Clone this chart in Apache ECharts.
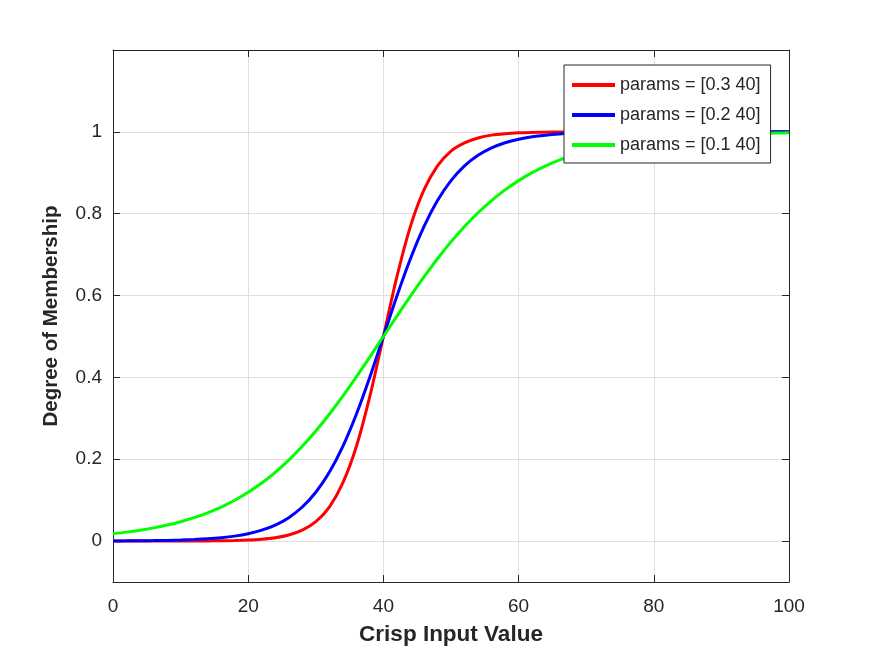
<!DOCTYPE html>
<html>
<head>
<meta charset="utf-8">
<script src="https://cdn.jsdelivr.net/npm/echarts@6/dist/echarts.min.js"></script>
<style>
html,body{margin:0;padding:0;background:#fff;}
#chart{width:872px;height:654px;}
</style>
</head>
<body>
<div id="chart"></div>
<script>
// Crisp input values (x)
const xValues = [0,2,4,6,8,10,12,14,16,18,20,22,24,26,28,30,32,34,36,38,40,42,44,46,48,50,52,54,56,58,60,62,64,66,68,70,72,74,76,78,80,82,84,86,88,90,92,94,96,98,100];
// params = [0.3 40]
const red = [0.000006,0.000011,0.00002,0.000037,0.000068,0.000123,0.000225,0.00041,0.00075,0.00136,0.00247,0.0045,0.00816,0.0148,0.0266,0.0474,0.0832,0.142,0.231,0.354,0.5,0.646,0.769,0.858,0.917,0.953,0.973,0.985,0.992,0.9955,0.9975,0.9986,0.9993,0.9996,0.9998,0.9999,0.99994,0.99997,0.99998,0.99999,1,1,1,1,1,1,1,1,1,1,1];
// params = [0.2 40]
const blue = [0.000335,0.0005,0.00075,0.00111,0.00166,0.00247,0.00368,0.00548,0.00816,0.0121,0.018,0.0266,0.0392,0.0573,0.0832,0.1192,0.168,0.2315,0.31,0.401,0.5,0.599,0.69,0.7685,0.832,0.8808,0.9168,0.9427,0.9608,0.9734,0.982,0.9879,0.9918,0.9945,0.9963,0.9975,0.9983,0.9989,0.9993,0.9995,0.9997,0.9998,0.9998,0.9999,0.9999,0.99995,0.99997,0.99998,0.99998,0.99999,0.99999];
// params = [0.1 40]
const green = [0.018,0.0219,0.0266,0.0323,0.0392,0.0474,0.0573,0.0691,0.0832,0.0998,0.1192,0.1419,0.168,0.1978,0.2315,0.2689,0.31,0.3543,0.4013,0.4502,0.5,0.5498,0.5987,0.6457,0.69,0.7311,0.7685,0.8022,0.832,0.8581,0.8808,0.9002,0.9168,0.9309,0.9427,0.9526,0.9608,0.9677,0.9734,0.9781,0.982,0.9852,0.9879,0.9901,0.9918,0.9933,0.9945,0.9955,0.9963,0.997,0.9975];
const seriesNames = ['params = [0.3 40]','params = [0.2 40]','params = [0.1 40]'];
const yTicks = [0,0.2,0.4,0.6,0.8,1];
const xTicks = [0,20,40,60,80,100];

const FONT = '"Liberation Sans", Arial, Helvetica, sans-serif';
const TXT = '#262626';
const GRIDC = '#dfdfdf';

function pairs(ys){ return xValues.map((x,i)=>[x, ys[i]]); }

const chart = echarts.init(document.getElementById('chart'), null, {renderer:'canvas'});
const axisLine = {show:true, onZero:false, lineStyle:{color:TXT, width:1}};
const option = {
  backgroundColor:'#ffffff',
  animation:false,
  grid:{left:113, right:83, top:50, bottom:72, containLabel:false},
  legend:{
    orient:'vertical', left:564, top:65,
    backgroundColor:'#ffffff', borderColor:'#262626', borderWidth:1,
    padding:[11,10,9,8], itemGap:12, itemWidth:43, itemHeight:4, itemTextGap:7,
    icon:'rect',
    textStyle:{fontFamily:FONT, fontSize:18, color:TXT},
    data:seriesNames
  },
  xAxis:[{
    type:'value', min:0, max:100, interval:20, position:'bottom',
    name:'Crisp Input Value', nameLocation:'middle', nameGap:41,
    nameTextStyle:{fontFamily:FONT, fontSize:22.5, fontWeight:'bold', color:TXT},
    axisLine:axisLine,
    axisTick:{show:true, inside:true, length:7, lineStyle:{color:TXT}, customValues:xTicks},
    axisLabel:{fontFamily:FONT, fontSize:19, color:TXT, margin:15, customValues:xTicks},
    splitLine:{show:true, lineStyle:{color:GRIDC, width:1}}
  },{
    type:'value', min:0, max:100, interval:20, position:'top',
    axisLine:axisLine,
    axisTick:{show:true, inside:true, length:7, lineStyle:{color:TXT}, customValues:xTicks},
    axisLabel:{show:false},
    splitLine:{show:false}
  }],
  yAxis:[{
    type:'value', min:-0.1, max:1.2, position:'left',
    name:'Degree of Membership', nameLocation:'middle', nameGap:51,
    nameTextStyle:{fontFamily:FONT, fontSize:20.5, fontWeight:'bold', color:TXT},
    axisLine:axisLine,
    axisTick:{show:true, inside:true, length:7, lineStyle:{color:TXT}, customValues:yTicks},
    axisLabel:{fontFamily:FONT, fontSize:19, color:TXT, margin:11, customValues:yTicks,
      formatter:v=>String(Math.round(v*10)/10)},
    splitLine:{show:true, lineStyle:{color:GRIDC, width:1}}
  },{
    type:'value', min:-0.1, max:1.2, position:'right',
    axisLine:axisLine,
    axisTick:{show:true, inside:true, length:7, lineStyle:{color:TXT}, customValues:yTicks},
    axisLabel:{show:false},
    splitLine:{show:false}
  }],
  series:[
    {name:seriesNames[0], type:'line', data:pairs(red), smooth:0.3, showSymbol:false, color:'#ff0000', lineStyle:{width:3, color:'#ff0000'}},
    {name:seriesNames[1], type:'line', data:pairs(blue), smooth:0.3, showSymbol:false, color:'#0000ff', lineStyle:{width:3, color:'#0000ff'}},
    {name:seriesNames[2], type:'line', data:pairs(green), smooth:0.3, showSymbol:false, color:'#00ff00', lineStyle:{width:3, color:'#00ff00'}}
  ]
};
chart.setOption(option);
</script>
</body>
</html>
